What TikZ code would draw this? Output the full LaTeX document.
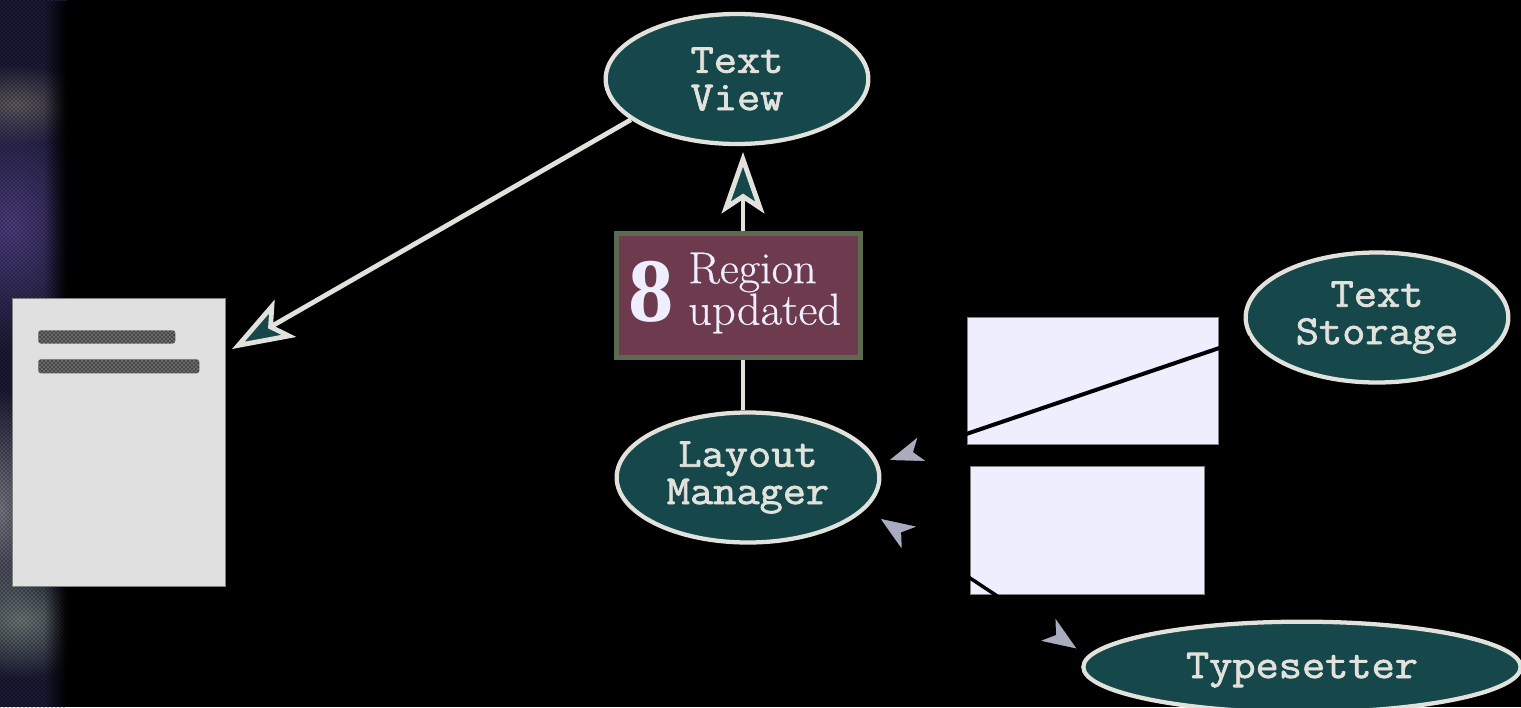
\documentclass[tikz,border=0pt]{standalone}
\usepackage{graphicx}
\usepackage{fontspec}
\newfontfamily\eightfont{Liberation Serif}[Scale=1]
\newfontfamily\ovalfont{Latin Modern Mono}[FakeBold=1.8,FakeStretch=1.09]
\newfontfamily\regionfont{Latin Modern Roman}[FakeBold=0.5,FakeStretch=1.04]
\usetikzlibrary{shapes.geometric,arrows.meta,fadings,patterns}
\definecolor{tealc}{HTML}{15474B}
\definecolor{linec}{HTML}{E2E2DC}
\definecolor{paper}{HTML}{E0E0E0}
\definecolor{lav}{HTML}{EEEEFF}
\definecolor{headg}{HTML}{A9ABBF}
\definecolor{wine}{HTML}{6E3A4E}
\definecolor{moss}{HTML}{5A6B52}
\tikzset{
  oval/.style={ellipse,draw=linec,fill=tealc,line width=3.2pt,inner sep=0pt,minimum width=197pt,minimum height=97.5pt,
    text=linec,align=center,font=\fontsize{31}{28}\selectfont\ovalfont},
  whitearrow/.style={draw=linec,line width=3.6pt,-{Stealth[length=46pt,width=32pt,inset=10.5pt,fill=tealc]}},
  blackarrow/.style={draw=black,line width=3pt,-{Stealth[length=42pt,width=31pt,inset=11pt,fill=headg]}},
  blackdouble/.style={draw=black,line width=2.6pt,{Stealth[length=40pt,width=31pt,inset=11pt,fill=headg]}-{Stealth[length=40pt,width=31pt,inset=11pt,fill=headg]}},
  plainrect/.style={draw=gray,line width=0.75pt,anchor=north west,inner sep=0pt},
  blob/.style={path fading=fuzzyblob,draw=none},
  textbar/.style={preaction={fill=black!72},pattern=crosshatch dots,pattern color=paper,rounded corners=2pt,draw=none,anchor=north west,inner sep=0pt}
}
\tikzfading[name=fuzzyblob,inner color=transparent!0,outer color=transparent!100]
\tikzfading[name=edgefade,left color=transparent!100,right color=transparent!0]
\begin{document}
\begin{tikzpicture}[x=0.75pt,y=-0.75pt]
\useasboundingbox (0,0) rectangle (1521,707);
\fill[black] (0,0) rectangle (1521,707);
% textured strip at the left edge
\begin{scope}
\clip (0,0) rectangle (67,707);
\fill[color={rgb,255:red,26;green,26;blue,52}] (0,0) rectangle (67,707);
\fill[blob,color={rgb,255:red,95;green,90;blue,95}] (15,105) ellipse (80 and 40);
\fill[blob,color={rgb,255:red,75;green,62;blue,125}] (10,225) ellipse (95 and 125);
\fill[blob,color={rgb,255:red,120;green,120;blue,130}] (0,510) ellipse (55 and 120);
\fill[blob,color={rgb,255:red,105;green,118;blue,115}] (20,620) ellipse (90 and 58);
\fill[pattern=crosshatch dots,pattern color=black] (0,0) rectangle (67,707);
\fill[black,path fading=edgefade] (44,0) rectangle (67,707);
\end{scope}
% document page
\node[plainrect,fill=paper,minimum width=159.75pt,minimum height=216pt] (doc) at (12,298) {};
\node[textbar,minimum width=102.75pt,minimum height=10pt] (bara) at (38,330) {};
\node[textbar,minimum width=120.75pt,minimum height=10.5pt] (barb) at (38,359) {};
% white panels
\node[plainrect,fill=lav,minimum width=188.25pt,minimum height=95.25pt] (pa) at (967,317) {};
\node[plainrect,fill=lav,minimum width=175.5pt,minimum height=96pt] (pb) at (970,466) {};
% ovals
\begin{scope}
\clip (0,0) rectangle (1521,707);
\node[oval] (tv) at (737,79) {Text\\View};
\node[oval] (ts) at (1377,317.5) {Text\\Storage};
\node[oval] (lm) at (748,477.5) {Layout\\Manager};
\node[oval,minimum width=328pt,minimum height=68pt] (tp) at (1302,667) {\raisebox{0pt}[16.5pt][0pt]{Typesetter}};
\end{scope}
% connectors
\coordinate (doctip) at (232,349);
\coordinate (tvtip) at (743,152);
\draw[whitearrow] (tv.201) -- (doctip);
\draw[whitearrow] (lm.north -| tvtip) -- (tvtip);
\draw[blackarrow] (ts.189) -- (lm.6);
\draw[blackdouble,shorten <=6pt,shorten >=2.5pt] (lm.-15) -- (tp.177);
% region box
\node[draw=moss,fill=wine,line width=3.75pt,minimum width=183pt,minimum height=93pt,inner sep=0pt] (box) at (738.5,295) {};
\node[text=lav,inner sep=0pt,font=\fontsize{68}{68}\selectfont\eightfont\bfseries] (eight) at (651,292) {8};
\node[text=lav,inner sep=0pt,anchor=west,align=left,font=\fontsize{33.5}{27}\selectfont\regionfont] (region) at (688,293) {Region\\updated};
\end{tikzpicture}
\end{document}
